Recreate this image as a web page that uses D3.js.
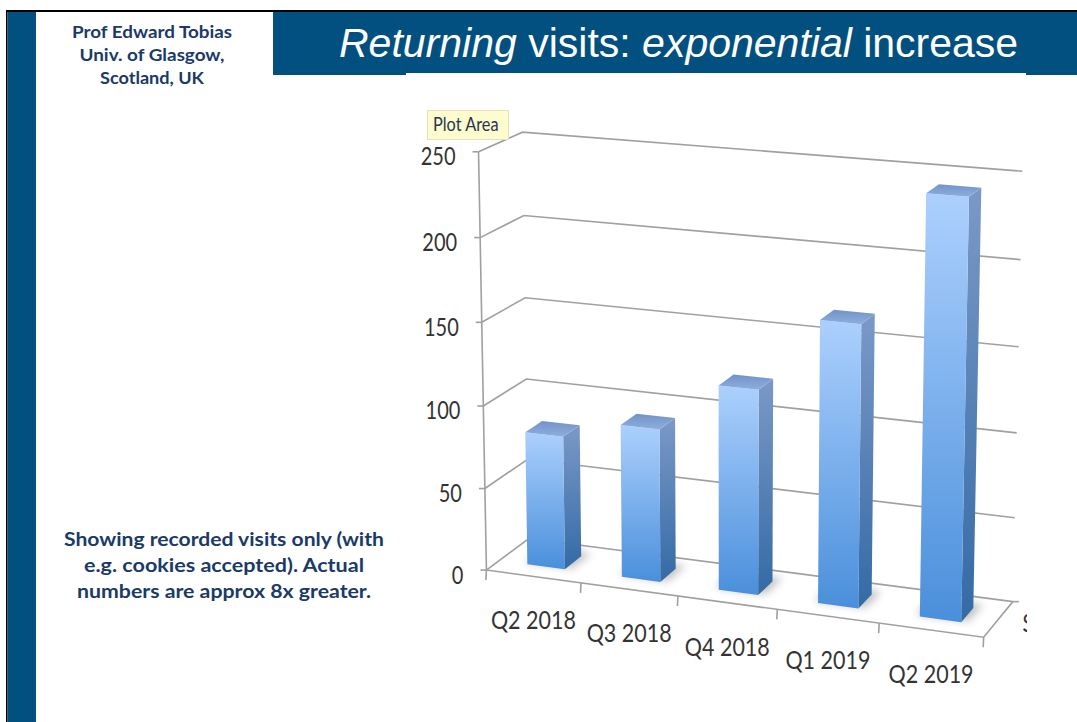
<!DOCTYPE html>
<html>
<head>
<meta charset="utf-8">
<script src="https://cdn.jsdelivr.net/npm/d3@7"></script>
<style>
  html, body { margin: 0; padding: 0; background: #fff; }
  svg { display: block; }
</style>
</head>
<body>
<svg id="slide" width="1077" height="722"></svg>
<script>
// ---- data ----
const categories = ["Q2 2018", "Q3 2018", "Q4 2018", "Q1 2019", "Q2 2019"];
const visits = [81, 92, 122, 166, 243];
const yTicks = [0, 50, 100, 150, 200, 250];
const seriesNames = ["Series1"];
const titleParts = [
  { text: "Returning", italic: true },
  { text: " visits: ", italic: false },
  { text: "exponential", italic: true },
  { text: " increase", italic: false }
];
const authorLines = ["Prof Edward Tobias", "Univ. of Glasgow,", "Scotland, UK"];
const noteLines = [
  "Showing recorded visits only (with",
  "e.g. cookies accepted). Actual",
  "numbers are approx 8x greater."
];

// ---- slide styling ----
const NAVY = "#02507f";
const INK = "#1a3a68";
const GRID = "#a0a0a0";

const svg = d3.select("#slide");
const defs = svg.append("defs");

// slide frame
svg.append("rect").attr("x", 6).attr("y", 10).attr("width", 1071).attr("height", 2).attr("fill", "#000");
svg.append("rect").attr("x", 6).attr("y", 10).attr("width", 1.5).attr("height", 712).attr("fill", "#000");
svg.append("rect").attr("x", 7.5).attr("y", 12).attr("width", 28.5).attr("height", 710).attr("fill", NAVY);
svg.append("rect").attr("x", 273).attr("y", 12).attr("width", 804).attr("height", 63).attr("fill", NAVY);

// title
const title = svg.append("text")
  .attr("x", 339).attr("y", 57)
  .attr("xml:space", "preserve")
  .attr("font-family", "'Liberation Sans', Arial, sans-serif")
  .attr("font-size", 41)
  .attr("fill", "#fff");
title.selectAll("tspan").data(titleParts).join("tspan")
  .attr("font-style", d => d.italic ? "italic" : "normal")
  .text(d => d.text);

// author block
const authorWidths = [160, 145, 104];
svg.append("g").selectAll("text").data(authorLines).join("text")
  .attr("x", 152).attr("y", (d, i) => 38 + i * 23)
  .attr("text-anchor", "middle")
  .attr("font-family", "Lato, 'Open Sans', sans-serif")
  .attr("font-weight", 700)
  .attr("font-size", 17)
  .attr("fill", INK)
  .attr("textLength", (d, i) => authorWidths[i])
  .attr("lengthAdjust", "spacingAndGlyphs")
  .text(d => d);

// note block
const noteWidths = [320, 280, 294];
svg.append("g").selectAll("text").data(noteLines).join("text")
  .attr("x", 224).attr("y", (d, i) => 546 + i * 26)
  .attr("text-anchor", "middle")
  .attr("font-family", "Lato, 'Open Sans', sans-serif")
  .attr("font-weight", 700)
  .attr("font-size", 19)
  .attr("fill", INK)
  .attr("textLength", (d, i) => noteWidths[i])
  .attr("lengthAdjust", "spacingAndGlyphs")
  .text(d => d);

// ---- 3D chart ----
// chart object background (sits slightly over the title band)
svg.append("rect").attr("x", 406).attr("y", 73).attr("width", 620).attr("height", 649).attr("fill", "#fff");

// Perspective camera: fitted (DLT) from the frame's corner anchors.
// World coords: X along categories [0,1], Y value fraction [0,1], Z depth [0 front, 1 back].
const frameAnchors = [
  [0, 0, 0, 488, 569], [0, 0.2, 0, 486, 487], [0, 0.4, 0, 483, 405],
  [0, 0.6, 0, 481, 321], [0, 0.8, 0, 480, 238], [0, 1, 0, 477, 153],
  [0.2, 0, 0, 582, 582], [0.4, 0, 0, 677, 596], [0.6, 0, 0, 777, 611],
  [0.8, 0, 0, 880, 625], [1, 0, 0, 983, 638],
  [0, 0, 1, 528, 542], [0, 0.2, 1, 527, 460], [0, 0.4, 1, 526, 378],
  [0, 0.6, 1, 525, 297], [0, 0.8, 1, 525, 215], [0, 1, 1, 523, 133],
  [1, 0, 1, 1012, 599], [1, 0.2, 1, 1015, 517], [1, 0.4, 1, 1017, 433],
  [1, 0.6, 1, 1018, 347], [1, 0.8, 1, 1021, 259], [1, 1, 1, 1023, 172]
];

function fitProjection(pts) {
  const n = 11;
  const N = Array.from({ length: n }, () => new Array(n).fill(0));
  const r = new Array(n).fill(0);
  const add = (row, b) => {
    for (let i = 0; i < n; i++) {
      r[i] += row[i] * b;
      for (let j = 0; j < n; j++) N[i][j] += row[i] * row[j];
    }
  };
  pts.forEach(([X, Y, Z, u, v]) => {
    const a = (u - 750) / 250, b = (v - 400) / 250;
    add([X, Y, Z, 1, 0, 0, 0, 0, -a * X, -a * Y, -a * Z], a);
    add([0, 0, 0, 0, X, Y, Z, 1, -b * X, -b * Y, -b * Z], b);
  });
  const M = N.map((row, i) => [...row, r[i]]);
  for (let c = 0; c < n; c++) {
    let p = c;
    for (let i = c + 1; i < n; i++) if (Math.abs(M[i][c]) > Math.abs(M[p][c])) p = i;
    [M[c], M[p]] = [M[p], M[c]];
    for (let i = 0; i < n; i++) {
      if (i === c) continue;
      const f = M[i][c] / M[c][c];
      for (let j = c; j <= n; j++) M[i][j] -= f * M[c][j];
    }
  }
  const p = M.map((row, i) => row[n] / row[i]);
  return (X, Y, Z) => {
    const w = p[8] * X + p[9] * Y + p[10] * Z + 1;
    return [
      (p[0] * X + p[1] * Y + p[2] * Z + p[3]) / w * 250 + 750,
      (p[4] * X + p[5] * Y + p[6] * Z + p[7]) / w * 250 + 400
    ];
  };
}
const P = fitProjection(frameAnchors);

// scales
const x = d3.scaleBand().domain(categories).range([0, 1]).paddingInner(0.6).paddingOuter(0.3);
const y = d3.scaleLinear().domain([0, 250]).range([0, 1]);
const z = d3.scaleBand().domain(seriesNames).range([0, 1]).paddingInner(0).paddingOuter(0.75);

const line = d3.line();
const poly = pts => "M" + pts.map(p => p.join(",")).join("L") + "Z";

defs.append("clipPath").attr("id", "chartClip")
  .append("rect").attr("x", 406).attr("y", 73).attr("width", 621).attr("height", 649);

const chart = svg.append("g").attr("clip-path", "url(#chartClip)");

// gridlines on side wall and back wall
chart.append("g").selectAll("path").data(yTicks).join("path")
  .attr("d", t => line([P(0, y(t), 0), P(0, y(t), 1), P(1, y(t), 1)]))
  .attr("fill", "none").attr("stroke", GRID).attr("stroke-width", 1.6);

// floor outline (front and right edges)
chart.append("path")
  .attr("d", line([P(0, 0, 0), P(1, 0, 0), P(1, 0, 1)]))
  .attr("fill", "none").attr("stroke", GRID).attr("stroke-width", 1.6);

// value axis line + ticks
chart.append("path")
  .attr("d", line([P(0, 0, 0), P(0, 1, 0)]))
  .attr("fill", "none").attr("stroke", GRID).attr("stroke-width", 1.6);
chart.append("g").selectAll("path").data(yTicks).join("path")
  .attr("d", t => { const a = P(0, y(t), 0); return line([[a[0] - 6, a[1]], a]); })
  .attr("stroke", GRID).attr("stroke-width", 1.6);

// category ticks along the front edge
const catEdges = d3.range(categories.length + 1).map(i => i * x.step());
chart.append("g").selectAll("path").data(catEdges).join("path")
  .attr("d", e => { const a = P(e, 0, 0); return line([a, [a[0] - 0.5, a[1] + 10]]); })
  .attr("stroke", GRID).attr("stroke-width", 1.6);

// depth axis tick
{
  const a = P(1, 0, 1);
  chart.append("path").attr("d", line([a, [a[0] + 6, a[1]]]))
    .attr("stroke", GRID).attr("stroke-width", 1.6);
}

// value labels
chart.append("g").selectAll("text").data(yTicks).join("text")
  .attr("transform", t => { const a = P(0, y(t), 0); return `translate(${a[0] - 23},${a[1] + 13.5}) scale(0.8,1)`; })
  .attr("text-anchor", "end")
  .attr("font-family", "Lato, 'Open Sans', sans-serif")
  .attr("font-size", 25)
  .attr("fill", "#333")
  .text(t => t);

// category labels
chart.append("g").selectAll("text").data(categories).join("text")
  .attr("transform", c => { const a = P(x(c) + x.bandwidth() / 2, 0, 0); return `translate(${a[0]},${a[1] + 53}) scale(0.86,1)`; })
  .attr("text-anchor", "middle")
  .attr("font-family", "Lato, 'Open Sans', sans-serif")
  .attr("font-size", 25)
  .attr("fill", "#333")
  .text(c => c);

// series (depth) label, cut by the chart object's edge
{
  const a = P(1, 0, z(seriesNames[0]) + z.bandwidth() / 2);
  chart.append("text")
    .attr("transform", `translate(${a[0] + 24},${a[1] + 13}) scale(0.8,1)`)
    .attr("font-family", "Lato, 'Open Sans', sans-serif")
    .attr("font-size", 25)
    .attr("fill", "#333")
    .text(seriesNames[0]);
}

// gradients for bar faces
const mkGrad = (id, c0, c1) => {
  const g = defs.append("linearGradient").attr("id", id).attr("x1", 0).attr("y1", 0).attr("x2", 0).attr("y2", 1);
  g.append("stop").attr("offset", 0).attr("stop-color", c0);
  g.append("stop").attr("offset", 1).attr("stop-color", c1);
};
mkGrad("gFront", "#acd0fd", "#4a8fdb");
mkGrad("gSide", "#7b99c7", "#346aa5");
mkGrad("gTop", "#7393c6", "#8eaee0");

defs.append("filter").attr("id", "soft").attr("x", "-50%").attr("y", "-50%").attr("width", "200%").attr("height", "200%")
  .append("feGaussianBlur").attr("stdDeviation", 4);

const bars = categories.map((c, i) => ({ c, v: visits[i] }));
const z0 = z(seriesNames[0]), z1 = z0 + z.bandwidth();

// floor shadows
chart.append("g").selectAll("path").data(bars).join("path")
  .attr("d", d => {
    const x0 = x(d.c), x1 = x0 + x.bandwidth();
    return poly([P(x0 - 0.01, 0, z0 + 0.04), P(x1 + 0.012, 0, z0 + 0.04), P(x1 + 0.012, 0, z1 + 0.12), P(x0 - 0.01, 0, z1 + 0.12)]);
  })
  .attr("fill", "#000").attr("opacity", 0.24).attr("filter", "url(#soft)");

const barG = chart.append("g").selectAll("g").data(bars).join("g");
barG.append("path") // right side face
  .attr("d", d => {
    const x1 = x(d.c) + x.bandwidth(), h = y(d.v);
    return poly([P(x1, 0, z0), P(x1, 0, z1), P(x1, h, z1), P(x1, h, z0)]);
  })
  .attr("fill", "url(#gSide)");
barG.append("path") // front face
  .attr("d", d => {
    const x0 = x(d.c), x1 = x0 + x.bandwidth(), h = y(d.v);
    return poly([P(x0, 0, z0), P(x1, 0, z0), P(x1, h, z0), P(x0, h, z0)]);
  })
  .attr("fill", "url(#gFront)");
barG.append("path") // top face
  .attr("d", d => {
    const x0 = x(d.c), x1 = x0 + x.bandwidth(), h = y(d.v);
    return poly([P(x0, h, z0), P(x1, h, z0), P(x1, h, z1), P(x0, h, z1)]);
  })
  .attr("fill", "url(#gTop)");

// "Plot Area" hover tip
const tip = svg.append("g");
tip.append("rect").attr("x", 427.5).attr("y", 110.5).attr("width", 81).attr("height", 29)
  .attr("fill", "#fdfccf").attr("stroke", "#e4e2b8").attr("stroke-width", 1);
tip.append("text")
  .attr("transform", "translate(433,131) scale(0.86,1)")
  .attr("font-family", "Lato, 'Open Sans', sans-serif")
  .attr("font-size", 19)
  .attr("fill", "#2a3550")
  .text("Plot Area");
</script>
</body>
</html>
